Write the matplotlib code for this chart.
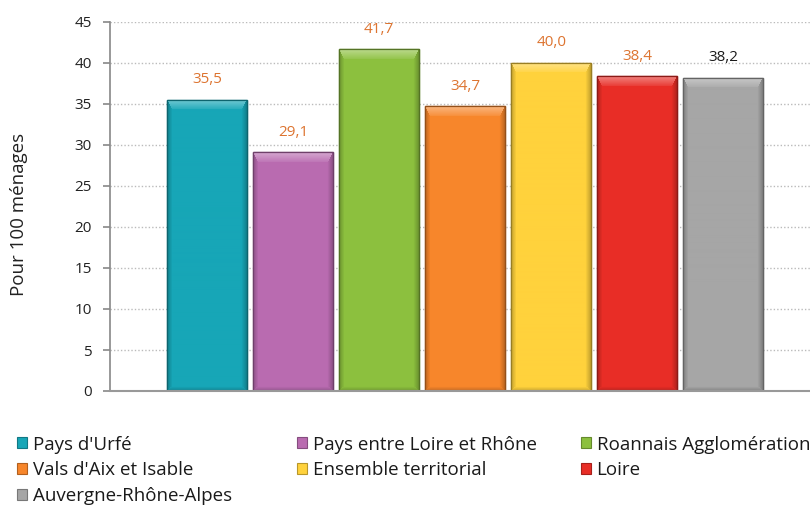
import matplotlib
matplotlib.use("Agg")
import matplotlib.pyplot as plt
from matplotlib.patches import Patch
import matplotlib.colors as mcolors
import numpy as np

plt.rcParams['font.family'] = ['Open Sans', 'DejaVu Sans']

categories = ["Pays d'Urfé", "Pays entre Loire et Rhône", "Roannais Agglomération",
              "Vals d'Aix et Isable", "Ensemble territorial", "Loire", "Auvergne-Rhône-Alpes"]
values = [35.5, 29.1, 41.7, 34.7, 40.0, 38.4, 38.2]
value_labels = ["35,5", "29,1", "41,7", "34,7", "40,0", "38,4", "38,2"]
colors = ["#17A6B7", "#B96BB0", "#8CC03E", "#F7862B", "#FFD23C", "#E82D26", "#A6A6A6"]
label_colors = ["#DD7430"] * 6 + ["#1a1a1a"]
yticks = [0, 5, 10, 15, 20, 25, 30, 35, 40, 45]

W, H = 810, 509
fig = plt.figure(figsize=(W/100, H/100), dpi=100)
ax = fig.add_axes([110/W, 1-391/H, 700/W, (391-22)/H])

x = list(range(len(values)))
edge = [mcolors.to_hex([c*0.72 for c in mcolors.to_rgb(col)]) for col in colors]
bars = ax.bar(x, values, width=0.93, color=colors, edgecolor=edge, linewidth=1.0, zorder=3)

ax.set_xlim(-1.13, 7.01)
ax.set_ylim(0, 45)

# bevel shading drawn inside each bar, clipped to the bar patch
fig.canvas.draw()
for rect, col in zip(bars.patches, colors):
    bx, bw, bh = rect.get_x(), rect.get_width(), rect.get_height()
    (px0, py0), (px1, py1) = ax.transData.transform([(bx, 0), (bx + bw, bh)])
    wpx, hpx = max(int(round(px1 - px0)), 2), max(int(round(py1 - py0)), 2)
    base = np.array(mcolors.to_rgb(col))
    r = np.arange(hpx)[:, None] * np.ones((1, wpx))
    c = np.ones((hpx, 1)) * np.arange(wpx)[None, :]
    dt, db, dl, dr = r, hpx - 1 - r, c, wpx - 1 - c
    img = np.ones((hpx, wpx, 3)) * base
    bt, bs, bb = 10.0, 5.0, 4.0
    side = np.minimum(dl, dr)
    fs = np.clip(1 - side / bs, 0, 1)
    ft = np.clip(1 - dt / bt, 0, 1)
    fb = np.clip(1 - db / bb, 0, 1)
    top_zone = (dt < bt) & (dt <= side * bt / bs + 0.5)
    bot_zone = (db < bb) & (db <= side)
    side_zone = ~top_zone & ~bot_zone & (side < bs)
    light = base + (1 - base) * 0.4
    img[top_zone] = base + (light - base) * (0.15 + 0.85 * ft[top_zone])[:, None]
    img[side_zone] = base * (1 - 0.22 * fs[side_zone])[:, None]
    img[bot_zone] = base * (1 - 0.18 * fb[bot_zone])[:, None]
    im = ax.imshow(img, extent=(bx, bx + bw, 0, bh), origin='upper', aspect='auto',
                   interpolation='bilinear', zorder=3.5)
    im.set_clip_path(rect)
    ax.bar(rect.get_x() + bw/2, bh, width=bw, facecolor='none',
           edgecolor=mcolors.to_hex(base*0.6), linewidth=0.9, zorder=4)

for xi, v, lab, lc in zip(x, values, value_labels, label_colors):
    ax.annotate(lab, (xi, v), xytext=(0, 9), textcoords='offset points',
                ha='center', va='bottom', fontsize=11, color=lc)

ax.set_xlim(-1.13, 7.01)
ax.set_ylim(0, 45)
ax.set_yticks(yticks)
ax.set_yticklabels([str(t) for t in yticks], fontsize=11, color='#222222')
ax.set_xticks([])
ax.yaxis.grid(True, linestyle=(0, (1, 1.5)), color='#BBBBBB', linewidth=1)
ax.set_axisbelow(True)
for s in ['top', 'right']:
    ax.spines[s].set_visible(False)
ax.spines['left'].set_color('#888888')
ax.spines['bottom'].set_color('#999999')
ax.spines['left'].set_linewidth(1.2)
ax.spines['bottom'].set_linewidth(1.5)
ax.spines['bottom'].set_zorder(5)
ax.tick_params(axis='y', length=5, color='#888888', pad=8, width=1.2)
fig.text(19 / W, 1 - 214 / H, "Pour 100 ménages", rotation=90, fontsize=13.5,
         color='#222222', ha='center', va='center')

handles = [Patch(facecolor=c, edgecolor=e, linewidth=0.8) for c, e in zip(colors, edge)]
cols = [[0, 3, 6], [1, 4], [2, 5]]
xpos = [17/W, 297/W, 581/W]
for idxs, xp in zip(cols, xpos):
    leg = fig.legend([handles[i] for i in idxs], [categories[i] for i in idxs],
                     loc='upper left', bbox_to_anchor=(xp, 1-435.5/H),
                     frameon=False, fontsize=13.5, handlelength=0.53, handleheight=0.53,
                     handletextpad=0.3, labelspacing=0.42, borderpad=0, borderaxespad=0)
    for t in leg.get_texts():
        t.set_color('#1a1a1a')

fig.savefig("out.png", dpi=100)
